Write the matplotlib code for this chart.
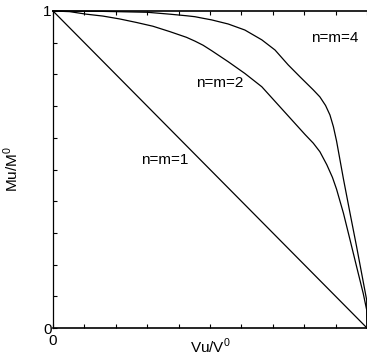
import numpy as np
import matplotlib
matplotlib.use('Agg')
import matplotlib.pyplot as plt

plt.rcParams['font.family'] = ['Liberation Sans', 'DejaVu Sans']
plt.rcParams['mathtext.fontset'] = 'custom'
plt.rcParams['mathtext.rm'] = 'Liberation Sans'

# curves (Vu/V0, Mu/M0)
x_n1 = [0.0, 1.0]
y_n1 = [1.0, 0.0]

x_n2 = [0.0, 0.053, 0.106, 0.159, 0.212, 0.265, 0.318, 0.372, 0.425, 0.452, 0.478,
        0.505, 0.558, 0.611, 0.665, 0.718, 0.771, 0.803, 0.829, 0.85, 0.872,
        0.89, 0.903, 0.925, 0.946, 0.967, 0.988, 0.999, 1.0]
y_n2 = [1.0, 0.998, 0.99, 0.984, 0.975, 0.964, 0.952, 0.935, 0.917, 0.905, 0.892,
        0.875, 0.84, 0.803, 0.761, 0.703, 0.645, 0.61, 0.583, 0.556, 0.515,
        0.475, 0.438, 0.362, 0.278, 0.193, 0.109, 0.057, 0.0]

x_n4 = [0.0, 0.15, 0.3, 0.372, 0.425, 0.452, 0.478, 0.505, 0.558, 0.611, 0.665,
        0.707, 0.749, 0.787, 0.829, 0.85, 0.868, 0.882, 0.893, 0.903, 0.925,
        0.946, 0.967, 0.983, 0.999, 1.0]
y_n4 = [1.0, 0.999, 0.996, 0.99, 0.985, 0.982, 0.977, 0.972, 0.959, 0.94, 0.909,
        0.877, 0.83, 0.792, 0.751, 0.729, 0.702, 0.672, 0.635, 0.59, 0.47,
        0.362, 0.256, 0.172, 0.088, 0.0]

labels = ['n=m=1', 'n=m=2', 'n=m=4']
label_pos = [(0.357, 0.53), (0.532, 0.773), (0.898, 0.915)]

fig = plt.figure(figsize=(3.67, 3.56), dpi=100)
ax = fig.add_axes([53 / 367, 28 / 356, 314 / 367, 317 / 356])

for xs, ys in [(x_n1, y_n1), (x_n2, y_n2), (x_n4, y_n4)]:
    ax.plot(xs, ys, color='black', lw=0.9, clip_on=False)

for txt, (tx, ty) in zip(labels, label_pos):
    ax.text(tx, ty, txt, fontsize=11, ha='center', va='center')

ax.set_xlim(0, 1)
ax.set_ylim(0, 1)
ticks = np.linspace(0, 1, 11)
ax.set_xticks(ticks)
ax.set_yticks(ticks)
ax.set_xticklabels(['0'] + [''] * 10, fontsize=11)
ax.set_yticklabels(['0'] + [''] * 9 + ['1'], fontsize=11)
ax.tick_params(direction='in', length=3, width=0.8, top=True, right=False)
ax.tick_params(axis='x', pad=4)
ax.tick_params(axis='y', pad=1)
ax.spines['right'].set_visible(False)
ax.spines['top'].set_linewidth(1.2)
ax.spines['bottom'].set_linewidth(1.2)
ax.spines['left'].set_linewidth(0.9)

ax.set_xlabel(r'Vu/V$^0$', fontsize=11, labelpad=-8)
ax.set_ylabel(r'Mu/M$^0$', fontsize=11, labelpad=16)

fig.savefig('out.png', dpi=100)
